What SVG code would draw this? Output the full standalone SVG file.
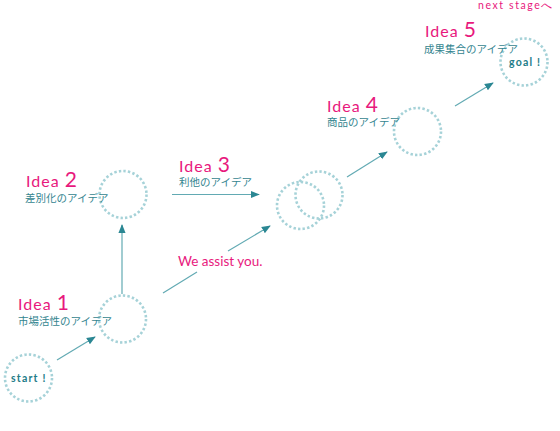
<svg xmlns="http://www.w3.org/2000/svg" width="560" height="431" viewBox="0 0 560 431">
<defs>
<marker id="ah" viewBox="0 0 10 10" refX="9" refY="5" markerWidth="9" markerHeight="9" markerUnits="userSpaceOnUse" orient="auto">
<path d="M0,1 L10,5 L0,9 Z" fill="#2b8793"/>
</marker>
<style>
.c{fill:none;stroke:#a6d2d8;stroke-width:2.6;stroke-dasharray:2.4 2.2}
.l{fill:none;stroke:#62aab3;stroke-width:1.2}
.i{font-family:Lato,"Noto Sans",sans-serif;fill:#e8197d;font-size:16px;letter-spacing:1px}
.n{font-size:21px}
.j{font-family:"Noto Sans CJK JP",sans-serif;fill:#34858f;font-size:10.5px}
.s{font-family:Lato,"Noto Sans",sans-serif;font-weight:bold;fill:#237c88;font-size:10.5px;letter-spacing:1.2px}
.m{font-family:Lato,"Noto Sans",sans-serif;fill:#e8197d;font-size:13.5px}
</style>
</defs>
<rect width="560" height="431" fill="#ffffff"/>
<g id="connectors">
<line class="l" x1="57" y1="360" x2="95" y2="337" marker-end="url(#ah)"/>
<line class="l" x1="122" y1="294" x2="122" y2="225" marker-end="url(#ah)"/>
<line class="l" x1="163" y1="293" x2="197" y2="272"/>
<line class="l" x1="228" y1="251" x2="270" y2="226" marker-end="url(#ah)"/>
<line class="l" x1="172" y1="194.5" x2="259" y2="194.5" marker-end="url(#ah)"/>
<line class="l" x1="347" y1="177" x2="387" y2="152" marker-end="url(#ah)"/>
<line class="l" x1="455" y1="106" x2="493" y2="83" marker-end="url(#ah)"/>
</g>
<g id="start">
<circle class="c" cx="28.5" cy="378" r="23.5"/>
<text class="s" x="11" y="382">start !</text>
</g>
<g id="idea1">
<circle class="c" cx="122.5" cy="319" r="23.5"/>
<text class="i" x="18" y="310">Idea <tspan class="n">1</tspan></text>
<text class="j" x="18" y="325">市場活性のアイデア</text>
</g>
<g id="idea2">
<circle class="c" cx="123" cy="194.5" r="23.5"/>
<text class="i" x="26" y="187">Idea <tspan class="n">2</tspan></text>
<text class="j" x="25" y="202">差別化のアイデア</text>
</g>
<g id="idea3">
<circle class="c" cx="300.5" cy="205.5" r="23.5"/>
<circle class="c" cx="319" cy="195" r="23.5"/>
<text class="i" x="179" y="172">Idea <tspan class="n">3</tspan></text>
<text class="j" x="179" y="186">利他のアイデア</text>
</g>
<text class="m" x="178" y="266">We assist you.</text>
<g id="idea4">
<circle class="c" cx="417.5" cy="131.5" r="23.5"/>
<text class="i" x="327" y="112">Idea <tspan class="n">4</tspan></text>
<text class="j" x="327" y="126">商品のアイデア</text>
</g>
<g id="goal">
<circle class="c" cx="524" cy="62" r="23.5"/>
<text class="s" x="509" y="66">goal !</text>
<text class="i" x="425" y="37">Idea <tspan class="n">5</tspan></text>
<text class="j" x="424" y="53">成果集合のアイデア</text>
</g>
<text class="m" x="478" y="9" style="font-size:10.5px;letter-spacing:1.6px">next stageへ</text>
</svg>
